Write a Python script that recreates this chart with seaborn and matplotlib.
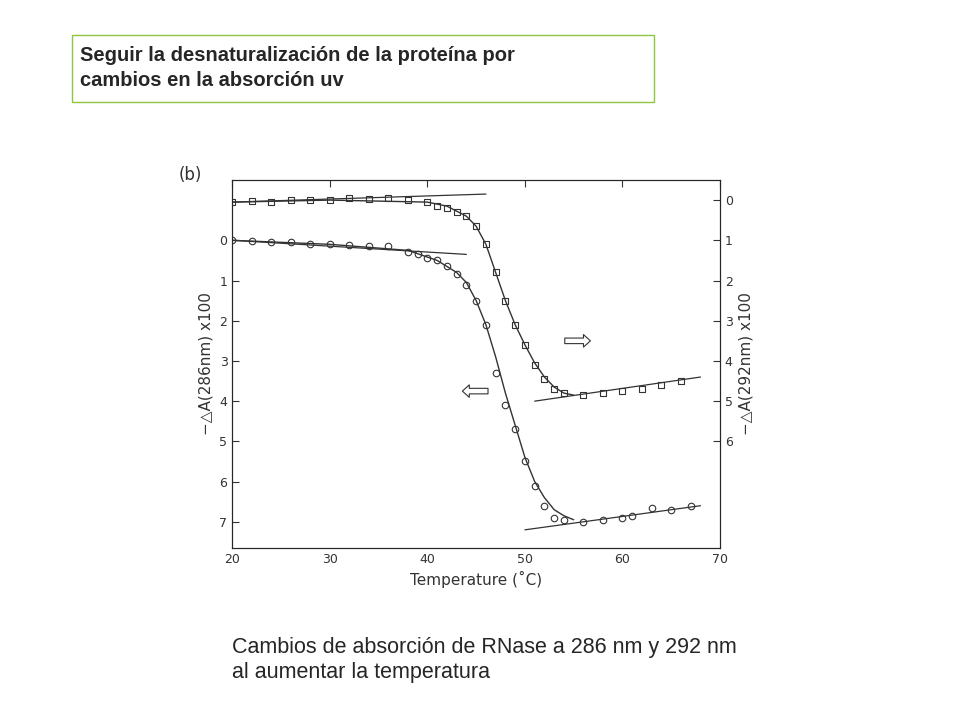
import matplotlib
matplotlib.use("Agg")
import matplotlib.pyplot as plt
import seaborn as sns
import pandas as pd

# squares, read on the right axis (-dA(292nm) x100)
sq_t = [20, 22, 24, 26, 28, 30, 32, 34, 36, 38, 40, 41, 42, 43, 44, 45, 46, 47,
        48, 49, 50, 51, 52, 53, 54, 56, 58, 60, 62, 64, 66]
sq_v = [0.05, 0.02, 0.05, 0.0, 0.0, 0.0, -0.05, -0.02, -0.05, 0.0, 0.05, 0.15, 0.2, 0.3,
        0.4, 0.65, 1.1, 1.8, 2.5, 3.1, 3.6, 4.1, 4.45, 4.7, 4.8, 4.85, 4.8, 4.75, 4.7, 4.6, 4.5]
# circles, read on the left axis (-dA(286nm) x100)
ci_t = [20, 22, 24, 26, 28, 30, 32, 34, 36, 38, 39, 40, 41, 42, 43, 44, 45, 46, 47,
        48, 49, 50, 51, 52, 53, 54, 56, 58, 60, 61, 63, 65, 67]
ci_v = [0.0, 0.02, 0.05, 0.05, 0.08, 0.1, 0.12, 0.15, 0.15, 0.3, 0.35, 0.45, 0.5, 0.65, 0.85,
        1.1, 1.5, 2.1, 3.3, 4.1, 4.7, 5.5, 6.1, 6.6, 6.9, 6.95, 7.0, 6.95, 6.9, 6.85, 6.65, 6.7, 6.6]
# hand-read fitted curves
sq_fit_t = [20, 30, 40, 42, 44, 45, 46, 47, 48, 49, 50, 51, 52, 53, 54, 55]
sq_fit_v = [0.05, 0.0, 0.05, 0.15, 0.4, 0.65, 1.1, 1.8, 2.5, 3.1, 3.6, 4.05, 4.4, 4.65, 4.8, 4.85]
ci_fit_t = [20, 30, 38, 41, 43, 44, 45, 46, 47, 48, 49, 50, 51, 52, 53, 54, 55]
ci_fit_v = [0.0, 0.1, 0.25, 0.5, 0.8, 1.05, 1.5, 2.1, 2.9, 3.8, 4.6, 5.4, 6.0, 6.4, 6.7, 6.85, 6.95]
# baselines (start/end)
sq_base_top = ([20, 46], [0.05, -0.15])
sq_base_bot = ([51, 68], [5.0, 4.4])
ci_base_top = ([20, 44], [0.0, 0.35])
ci_base_bot = ([50, 68], [7.2, 6.6])

sns.set_style("white")
fig = plt.figure(figsize=(9.6, 7.2), dpi=100)
ax = fig.add_axes([0.242, 0.239, 0.508, 0.511])
off = 1.0  # right axis value = left axis value + off

ink = "#333333"
for (t, v), o in [(sq_base_top, off), (sq_base_bot, off), (ci_base_top, 0), (ci_base_bot, 0)]:
    ax.plot(t, [y - o for y in v], color=ink, lw=0.9)
sns.lineplot(x=sq_fit_t, y=[y - off for y in sq_fit_v], ax=ax, color=ink, lw=1.0)
sns.lineplot(x=ci_fit_t, y=ci_fit_v, ax=ax, color=ink, lw=1.0)
df_s = pd.DataFrame({"t": sq_t, "v": [y - off for y in sq_v]})
df_c = pd.DataFrame({"t": ci_t, "v": ci_v})
sns.scatterplot(data=df_s, x="t", y="v", ax=ax, marker="s", s=22, facecolor="white",
                edgecolor=ink, linewidth=0.8)
sns.scatterplot(data=df_c, x="t", y="v", ax=ax, marker="o", s=22, facecolor="white",
                edgecolor=ink, linewidth=0.8)

ax.set_xlim(20, 70)
ax.set_ylim(7.65, -1.5)
ax.set_xticks([20, 30, 40, 50, 60, 70])
ax.set_yticks(range(0, 8))
ax.tick_params(direction="in", length=5, labelsize=9, colors=ink, top=True)
ax.set_xlabel("Temperature (˚C)", fontsize=11, color=ink)
ax.set_ylabel("−△A(286nm) x100", fontsize=11, color=ink)
for s in ax.spines.values():
    s.set_color(ink)
ax2 = ax.twinx()
ax2.set_ylim(7.65 + off, -1.5 + off)
ax2.set_yticks(range(0, 7))
ax2.tick_params(direction="in", length=5, labelsize=9, colors=ink)
ax2.set_ylabel("−△A(292nm) x100", fontsize=11, color=ink)
ax.text(-0.11, 1.0, "(b)", transform=ax.transAxes, fontsize=12, color=ink)
ax.annotate("", xy=(57, 2.5), xytext=(53.8, 2.5),
            arrowprops=dict(arrowstyle="simple,head_width=0.9,tail_width=0.4",
                            fc="white", ec=ink, lw=0.8))
ax.annotate("", xy=(43.3, 3.75), xytext=(46.5, 3.75),
            arrowprops=dict(arrowstyle="simple,head_width=0.9,tail_width=0.4",
                            fc="white", ec=ink, lw=0.8))

fig.patches.append(plt.Rectangle((72 / 960, 1 - 102 / 720), 582 / 960, 67 / 720,
                                 transform=fig.transFigure, fill=False,
                                 ec="#8dc63f", lw=1))
fig.text(80 / 960, 1 - 68 / 720, "Seguir la desnaturalización de la proteína por\ncambios en la absorción uv",
         fontsize=14.5, fontweight="bold", va="center", family="Liberation Sans", linespacing=1.45)
fig.text(232 / 960, 1 - 660 / 720, "Cambios de absorción de RNase a 286 nm y 292 nm\nal aumentar la temperatura",
         fontsize=15.5, va="center", family="Liberation Sans", linespacing=1.3)
fig.savefig("out.png", dpi=100)
